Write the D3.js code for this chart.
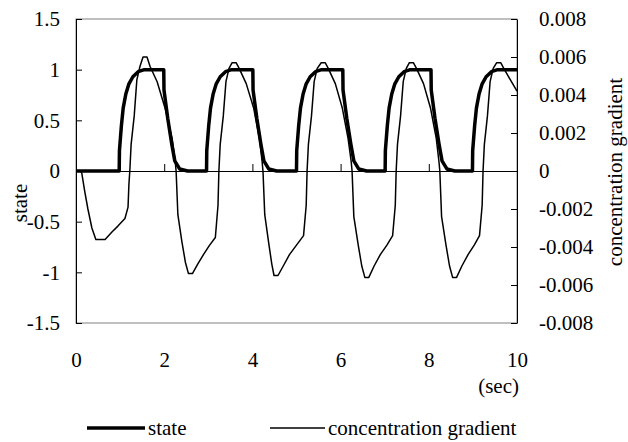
<!DOCTYPE html>
<html>
<head>
<meta charset="utf-8">
<script src="https://cdn.jsdelivr.net/npm/d3@7"></script>
<style>
body { margin: 0; background: #fff; }
svg { display: block; }
</style>
</head>
<body>
<svg id="chart" width="628" height="442"></svg>
<script>
// Tick values for the three axes
var timeTicks = [0, 2, 4, 6, 8, 10];
var stateTicks = [-1.5, -1, -0.5, 0, 0.5, 1, 1.5];
var gradTicks = [-0.008, -0.006, -0.004, -0.002, 0, 0.002, 0.004, 0.006, 0.008];

// Series names for the legend
var seriesNames = ['state', 'concentration gradient'];

// state (left axis), [time in sec, value]
var stateSeries = [
    [0, 0], [0.98, 0], [0.985, 0.2], [1.03, 0.45], [1.07, 0.62], [1.13, 0.76], [1.2, 0.86], [1.29, 0.93], [1.41, 0.98], [1.55, 1],
    [1.99, 1], [1.995, 0.8], [2.08, 0.52], [2.17, 0.27], [2.24, 0.1], [2.35, 0.02], [2.53, 0],
    [2.96, 0], [2.965, 0.2], [3.01, 0.45], [3.05, 0.62], [3.11, 0.76], [3.18, 0.86], [3.27, 0.93], [3.39, 0.98], [3.53, 1],
    [4.01, 1], [4.015, 0.8], [4.1, 0.52], [4.19, 0.27], [4.26, 0.1], [4.37, 0.02], [4.55, 0],
    [5.0, 0], [5.005, 0.2], [5.05, 0.45], [5.09, 0.62], [5.15, 0.76], [5.22, 0.86], [5.31, 0.93], [5.43, 0.98], [5.57, 1],
    [6.05, 1], [6.055, 0.8], [6.14, 0.52], [6.23, 0.27], [6.3, 0.1], [6.41, 0.02], [6.59, 0],
    [7.01, 0], [7.015, 0.2], [7.06, 0.45], [7.1, 0.62], [7.16, 0.76], [7.23, 0.86], [7.32, 0.93], [7.44, 0.98], [7.58, 1],
    [8.05, 1], [8.055, 0.8], [8.14, 0.52], [8.23, 0.27], [8.3, 0.1], [8.41, 0.02], [8.59, 0],
    [8.99, 0], [8.995, 0.2], [9.04, 0.45], [9.08, 0.62], [9.14, 0.76], [9.21, 0.86], [9.3, 0.93], [9.42, 0.98], [9.56, 1],
    [10, 1]
];

// concentration gradient (right axis), [time in sec, value]
var gradSeries = [
    [0, 0], [0.1, 0], [0.13, -0.0001], [0.2, -0.0011], [0.27, -0.002], [0.36, -0.003], [0.45, -0.0036], [0.66, -0.0036],
    [0.82, -0.0032], [0.95, -0.0029], [1.11, -0.0025], [1.18, -0.0019], [1.2, -0.0007], [1.22, 0],
    [1.25, 0.0014], [1.32, 0.0029], [1.38, 0.0048], [1.45, 0.0055], [1.52, 0.006], [1.61, 0.006], [1.68, 0.0055],
    [1.84, 0.0047], [2.02, 0.0033], [2.18, 0.0017], [2.25, 0.0005], [2.27, 0],
    [2.31, -0.0023], [2.4, -0.0037], [2.48, -0.0048], [2.55, -0.0054], [2.64, -0.0054], [2.76, -0.0049],
    [2.89, -0.0044], [3.03, -0.0039], [3.16, -0.0035], [3.22, -0.0018], [3.24, 0],
    [3.27, 0.0014], [3.34, 0.0029], [3.4, 0.0047], [3.47, 0.0054], [3.54, 0.0057], [3.63, 0.0057], [3.7, 0.0054],
    [3.86, 0.0046], [4.03, 0.0033], [4.16, 0.0017], [4.22, 0.0005], [4.24, 0],
    [4.28, -0.0023], [4.37, -0.0038], [4.44, -0.0049], [4.49, -0.0055], [4.58, -0.0055], [4.7, -0.005],
    [4.84, -0.0044], [5.0, -0.0039], [5.16, -0.0034], [5.22, -0.0018], [5.24, 0],
    [5.27, 0.0014], [5.34, 0.0029], [5.4, 0.0047], [5.47, 0.0054], [5.56, 0.0057], [5.65, 0.0057], [5.72, 0.0054],
    [5.88, 0.0046], [6.04, 0.0033], [6.17, 0.0017], [6.24, 0.0005], [6.26, 0],
    [6.3, -0.0024], [6.4, -0.0039], [6.48, -0.005], [6.55, -0.0056], [6.64, -0.0056], [6.76, -0.005],
    [6.9, -0.0044], [7.05, -0.0039], [7.18, -0.0034], [7.24, -0.0018], [7.26, 0],
    [7.29, 0.0014], [7.36, 0.0029], [7.42, 0.0047], [7.49, 0.0054], [7.56, 0.0057], [7.65, 0.0057], [7.72, 0.0054],
    [7.88, 0.0046], [8.04, 0.0033], [8.17, 0.0017], [8.23, 0.0005], [8.25, 0],
    [8.29, -0.0024], [8.39, -0.0039], [8.47, -0.005], [8.54, -0.0056], [8.63, -0.0056], [8.75, -0.005],
    [8.89, -0.0044], [9.03, -0.0039], [9.15, -0.0034], [9.21, -0.0018], [9.23, 0],
    [9.26, 0.0014], [9.33, 0.0029], [9.39, 0.0047], [9.46, 0.0054], [9.54, 0.0057], [9.63, 0.0057], [9.7, 0.0054],
    [10, 0.0042]
];

var svg = d3.select('#chart');

// Plot area box
var plot = {l: 76, r: 517, t: 19, b: 323};

var xScale = d3.scaleLinear().domain([0, 10]).range([plot.l, plot.r]);
var yLeft = d3.scaleLinear().domain([-1.5, 1.5]).range([plot.b, plot.t]);
var yRight = d3.scaleLinear().domain([-0.008, 0.008]).range([plot.b, plot.t]);

var fontSize = 21;
var serif = 'Liberation Serif, Tinos, Nimbus Roman, FreeSerif, Noto Serif, DejaVu Serif, Times New Roman, Times, serif';

// gray frame of the plot area (top and bottom show through)
svg.append('rect')
    .attr('x', plot.l).attr('y', plot.t)
    .attr('width', plot.r - plot.l).attr('height', plot.b - plot.t)
    .attr('fill', 'none')
    .attr('stroke', '#808080')
    .attr('stroke-width', 1);

function styleAxis(g) {
    g.attr('font-family', null).attr('font-size', null);
    g.selectAll('path').attr('stroke', '#000').attr('stroke-width', 1);
    g.selectAll('line').attr('stroke', '#000').attr('stroke-width', 1);
    g.selectAll('text')
        .attr('fill', '#000')
        .style('font-family', serif)
        .style('font-size', fontSize + 'px');
}

// left axis, ticks pointing inwards
svg.append('g')
    .attr('transform', 'translate(' + plot.l + ',0)')
    .call(d3.axisLeft(yLeft)
        .tickValues(stateTicks)
        .tickSizeInner(-6)
        .tickSizeOuter(0)
        .tickPadding(16)
        .tickFormat(function(d) { return String(d); }))
    .call(styleAxis);

// right axis
svg.append('g')
    .attr('transform', 'translate(' + plot.r + ',0)')
    .call(d3.axisRight(yRight)
        .tickValues(gradTicks)
        .tickSizeInner(-6)
        .tickSizeOuter(0)
        .tickPadding(22)
        .tickFormat(function(d) { return d === 0 ? '0' : d.toFixed(3); }))
    .call(styleAxis);

// time axis sits on the zero line, labels go under the plot
svg.append('g')
    .attr('transform', 'translate(0,' + yLeft(0) + ')')
    .call(d3.axisBottom(xScale)
        .tickValues(timeTicks)
        .tickSizeInner(-7)
        .tickSizeOuter(0)
        .tickPadding(plot.b - yLeft(0) + 29))
    .call(styleAxis);

function addText(x, y, anchor, label, rotate) {
    return svg.append('text')
        .attr('transform', 'translate(' + x + ',' + y + ')' + (rotate ? ' rotate(-90)' : ''))
        .attr('text-anchor', anchor)
        .attr('fill', '#000')
        .style('font-family', serif)
        .style('font-size', fontSize + 'px')
        .text(label);
}

addText(plot.r + 2, 393, 'end', '(sec)');

// axis titles
addText(27, 203, 'middle', 'state', true);
addText(622, 172, 'middle', 'concentration gradient', true);

// lines
var stateLine = d3.line()
    .x(function(d) { return xScale(d[0]); })
    .y(function(d) { return yLeft(d[1]); });

var gradLine = d3.line()
    .x(function(d) { return xScale(d[0]); })
    .y(function(d) { return yRight(d[1]); });

svg.append('path')
    .datum(gradSeries)
    .attr('d', gradLine)
    .attr('fill', 'none')
    .attr('stroke', '#000')
    .attr('stroke-width', 1.5)
    .attr('stroke-linejoin', 'round');

svg.append('path')
    .datum(stateSeries)
    .attr('d', stateLine)
    .attr('fill', 'none')
    .attr('stroke', '#000')
    .attr('stroke-width', 3.5)
    .attr('stroke-linejoin', 'round');

// legend
var legendItems = [
    {name: seriesNames[0], x1: 87, x2: 145, width: 3.5},
    {name: seriesNames[1], x1: 270, x2: 325, width: 1.5}
];

legendItems.forEach(function(item) {
    svg.append('line')
        .attr('x1', item.x1).attr('x2', item.x2)
        .attr('y1', 428).attr('y2', 428)
        .attr('stroke', '#000')
        .attr('stroke-width', item.width);
    addText(item.x2 + 3, 435, 'start', item.name);
});
</script>
</body>
</html>
